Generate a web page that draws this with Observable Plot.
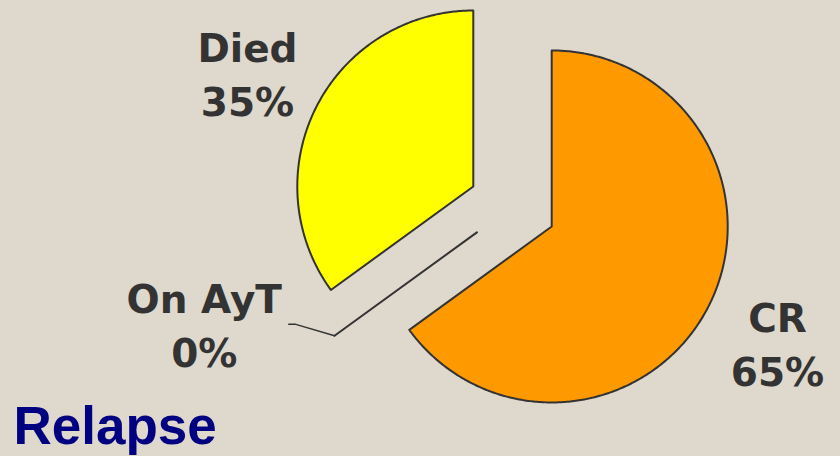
<!DOCTYPE html>
<html><head><meta charset="utf-8">
<script src="https://cdn.jsdelivr.net/npm/d3@7"></script>
<script src="https://cdn.jsdelivr.net/npm/@observablehq/plot@0.6"></script>
<style>
html,body{margin:0;padding:0;background:#dfd8cc;}
#chart{width:840px;height:456px;}
</style></head><body><div id="chart"></div>
<script>
const categories = ["CR", "On AyT", "Died"];
const values = [65, 0, 35];
const labels = ["CR\n65%", "On AyT\n0%", "Died\n35%"];
const colors = ["#ff9900", "none", "#ffff00"];
const title = "Relapse";

const W = 840, H = 456, R = 176, cx = 512, cy = 206, explode = 0.25, labelR = 1.69;
const data = categories.map((c, i) => ({name: c, value: values[i], label: labels[i], color: colors[i]}));
const arcs = d3.pie().sort(null).value(d => d.value).startAngle(0).endAngle(2 * Math.PI)(data);

const pts = [];
arcs.forEach(a => {
  const mid = (a.startAngle + a.endAngle) / 2;
  const ox = explode * Math.sin(mid), oy = explode * Math.cos(mid);
  pts.push({name: a.data.name, color: a.data.color, x: ox, y: oy});
  const n = Math.max(1, Math.ceil((a.endAngle - a.startAngle) / 0.01));
  for (let k = 0; k <= n; k++) {
    const t = a.startAngle + (a.endAngle - a.startAngle) * k / n;
    pts.push({name: a.data.name, color: a.data.color, x: ox + Math.sin(t), y: oy + Math.cos(t)});
  }
});

const outer = arcs.filter(a => a.value > 0).map(a => {
  const mid = (a.startAngle + a.endAngle) / 2;
  return {label: a.data.label, x: labelR * Math.sin(mid), y: labelR * Math.cos(mid)};
});

// zero slice leader
const zero = arcs.find(a => a.value === 0);
const zr = 1 + explode;
const p0 = {x: zr * Math.sin(zero.startAngle), y: zr * Math.cos(zero.startAngle)};
const leader = [p0, {x: p0.x - 0.22, y: p0.y + 0.065}, {x: p0.x - 0.26, y: p0.y + 0.065}];
const zeroLabel = [{label: zero.data.label, x: p0.x - 0.74, y: p0.y + 0.075}];

const font = "'DejaVu Sans', Verdana, sans-serif";
const chart = Plot.plot({
  width: W, height: H,
  margin: 0,
  style: {background: "transparent", overflow: "visible"},
  x: {domain: [-cx / R, (W - cx) / R], range: [0, W], axis: null},
  y: {domain: [-(H - cy) / R, cy / R], range: [H, 0], axis: null},
  color: {type: "identity"},
  marks: [
    Plot.line(pts, {x: "x", y: "y", z: "name", fill: "color", stroke: "#333", strokeWidth: 2, curve: "linear-closed"}),
    Plot.line(leader, {x: "x", y: "y", stroke: "#333", strokeWidth: 1.5}),
    Plot.text(outer, {x: "x", y: "y", text: "label", fontSize: 39, fontWeight: "bold", fontFamily: font, fill: "#333", lineHeight: 1.4}),
    Plot.text(zeroLabel, {x: "x", y: "y", text: "label", fontSize: 39, fontWeight: "bold", fontFamily: font, fill: "#333", lineHeight: 1.4}),
    Plot.text([title], {text: d => d, frameAnchor: "bottom-left", lineAnchor: "bottom", dx: 13, dy: -13, fontSize: 53, fontWeight: "bold", fontFamily: "'Liberation Sans', Arial, sans-serif", fill: "#000080", textAnchor: "start"})
  ]
});
document.getElementById("chart").appendChild(chart);
</script></body></html>
